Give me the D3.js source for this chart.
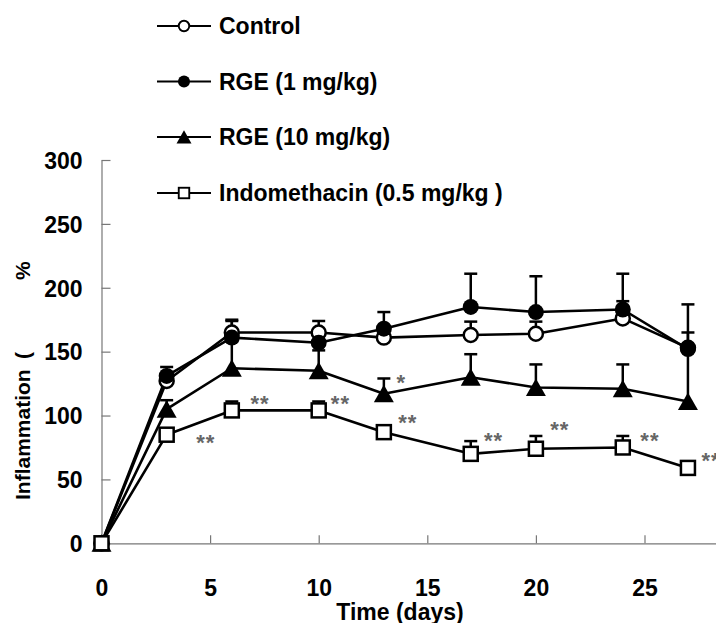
<!DOCTYPE html>
<html><head><meta charset="utf-8">
<script src="https://cdn.jsdelivr.net/npm/d3@7"></script>
<style>
html,body{margin:0;padding:0;background:#fff;}
svg{display:block;}
text{font-family:"Liberation Sans",Arial,sans-serif;font-weight:bold;fill:#000;}
</style></head>
<body>
<svg id="c" width="716" height="623"></svg>
<script>
// ---- data ----
const days = [0, 3, 6, 10, 13, 17, 20, 24, 27];
const seriesNames = ["Control", "RGE (1 mg/kg)", "RGE (10 mg/kg)", "Indomethacin (0.5 mg/kg )"];
const control    = [0, 127, 165, 165, 161, 163, 164, 176, 153];
const controlSE  = [0, 6, 10, 9, 6, 10.5, 9.5, 13.5, 12];
const rge1       = [0, 131, 161, 157, 168, 185, 181, 183, 152];
const rge1SE     = [0, 7, 13, 6, 13, 26, 28, 28, 35];
const rge10      = [0, 105, 137, 135, 117, 130, 122, 121, 111];
const rge10SE    = [0, 7, 21, 16, 12, 18, 18, 19, 39];
const indo       = [0, 85, 104, 104, 87, 70, 74, 75, 59];
const indoSE     = [0, 3, 7, 7, 3, 10, 10, 9, 3];
const xTicks = [0, 5, 10, 15, 20, 25];
const yTicks = [0, 50, 100, 150, 200, 250, 300];
// significance marks: position (day, value) and label
const sigDays   = [4.8, 7.3, 11.0, 14.1, 13.8, 18.05, 21.1, 25.25, 28.06];
const sigValues = [83, 114, 114, 99, 130, 85, 93, 85, 69];
const sigLabels = ["**", "**", "**", "**", "*", "**", "**", "**", "**"];

const values = [control, rge1, rge10, indo];
const errs = [controlSE, rge1SE, rge10SE, indoSE];
const symbols = ["openCircle", "filledCircle", "triangle", "openSquare"];

const svg = d3.select("#c");
const x = d3.scaleLinear().domain([0, 30]).range([101.5, 101.5 + 30 * 21.72]);
const y = d3.scaleLinear().domain([0, 300]).range([543.3, 160]);

// ---- axes ----
const axisColor = "#777";
const gx = svg.append("g").attr("transform", `translate(0,${y(0)})`)
  .call(d3.axisBottom(x).tickValues(xTicks).tickSizeInner(-8).tickSizeOuter(0).tickFormat(d3.format("d")));
gx.select(".domain").attr("stroke", axisColor).attr("stroke-width", 1.2);
gx.selectAll(".tick line").attr("stroke", axisColor).attr("stroke-width", 1.2);
gx.selectAll(".tick text").attr("y", 53).attr("dy", null).attr("font-size", 23)
  .attr("font-family", "Liberation Sans, Arial, sans-serif").attr("font-weight", "bold").attr("fill", "#000");

const gy = svg.append("g").attr("transform", `translate(${x(0)},0)`)
  .call(d3.axisLeft(y).tickValues(yTicks).tickSizeInner(-9).tickSizeOuter(0).tickFormat(d3.format("d")));
gy.select(".domain").attr("stroke", axisColor).attr("stroke-width", 1.2);
gy.selectAll(".tick line").attr("stroke", axisColor).attr("stroke-width", 1.2);
gy.selectAll(".tick text").attr("x", -19).attr("dy", "0.36em").attr("font-size", 23)
  .attr("font-family", "Liberation Sans, Arial, sans-serif").attr("font-weight", "bold").attr("fill", "#000");

// axis titles
svg.append("text").attr("x", 400).attr("y", 620).attr("text-anchor", "middle")
  .attr("font-size", 23).text("Time (days)");
const yl = svg.append("text").attr("transform", "rotate(-90)").attr("y", 29.5).attr("font-size", 21);
yl.append("tspan").attr("x", -500).text("Inflammation");
yl.append("tspan").attr("x", -359).text("(");
yl.append("tspan").attr("x", -280).text("%");

// ---- marker drawing ----
function drawMarker(g, type, cx, cy, s) {
  if (type === "openCircle") {
    g.append("circle").attr("cx", cx).attr("cy", cy).attr("r", 7 * s)
      .attr("fill", "#fff").attr("stroke", "#000").attr("stroke-width", 2.5 * s);
  } else if (type === "filledCircle") {
    g.append("circle").attr("cx", cx).attr("cy", cy).attr("r", 8 * s)
      .attr("fill", "#000").attr("stroke", "none");
  } else if (type === "triangle") {
    const p = d3.path();
    p.moveTo(cx, cy - 9 * s); p.lineTo(cx + 10 * s, cy + 8.5 * s); p.lineTo(cx - 10 * s, cy + 8.5 * s); p.closePath();
    g.append("path").attr("d", p.toString()).attr("fill", "#000");
  } else if (type === "openSquare") {
    g.append("rect").attr("x", cx - 7 * s).attr("y", cy - 7 * s).attr("width", 14 * s).attr("height", 14 * s)
      .attr("fill", "#fff").attr("stroke", "#000").attr("stroke-width", 2.5 * s);
  }
}

// ---- error bars (upper) ----
const gErr = svg.append("g");
values.forEach((vals, si) => {
  vals.forEach((v, i) => {
    const e = errs[si][i];
    if (!e) return;
    const xp = x(days[i]);
    gErr.append("line").attr("x1", xp).attr("x2", xp).attr("y1", y(v)).attr("y2", y(v + e))
      .attr("stroke", "#000").attr("stroke-width", 2.5);
    gErr.append("line").attr("x1", xp - 6.5).attr("x2", xp + 6.5).attr("y1", y(v + e)).attr("y2", y(v + e))
      .attr("stroke", "#000").attr("stroke-width", 2.5);
  });
});

// ---- lines ----
const line = d3.line().x((d, i) => x(days[i])).y(d => y(d));
const gLines = svg.append("g");
values.forEach(vals => {
  gLines.append("path").attr("d", line(vals)).attr("fill", "none")
    .attr("stroke", "#000").attr("stroke-width", 2.6).attr("stroke-linejoin", "round");
});

// ---- markers ----
const gMarks = svg.append("g");
values.forEach((vals, si) => {
  vals.forEach((v, i) => drawMarker(gMarks, symbols[si], x(days[i]), y(v), 1));
});

// ---- significance marks ----
const gSig = svg.append("g");
sigLabels.forEach((lab, i) => {
  gSig.append("text").attr("x", x(sigDays[i])).attr("y", y(sigValues[i]) + 13)
    .attr("text-anchor", "middle").attr("font-family", "DejaVu Sans, sans-serif")
    .attr("font-weight", "normal").attr("font-size", 22).attr("letter-spacing", 1)
    .style("fill", "#666").text(lab);
});

// ---- legend ----
const legendRowY = [26, 81.5, 137, 193];
const gLeg = svg.append("g");
seriesNames.forEach((name, si) => {
  const ly = legendRowY[si];
  gLeg.append("line").attr("x1", 157).attr("x2", 211).attr("y1", ly).attr("y2", ly)
    .attr("stroke", "#000").attr("stroke-width", 2);
  drawMarker(gLeg, symbols[si], 184, ly, 0.75);
  gLeg.append("text").attr("x", 219).attr("y", ly + 8.3).attr("font-size", 23).text(name);
});
</script>
</body></html>
